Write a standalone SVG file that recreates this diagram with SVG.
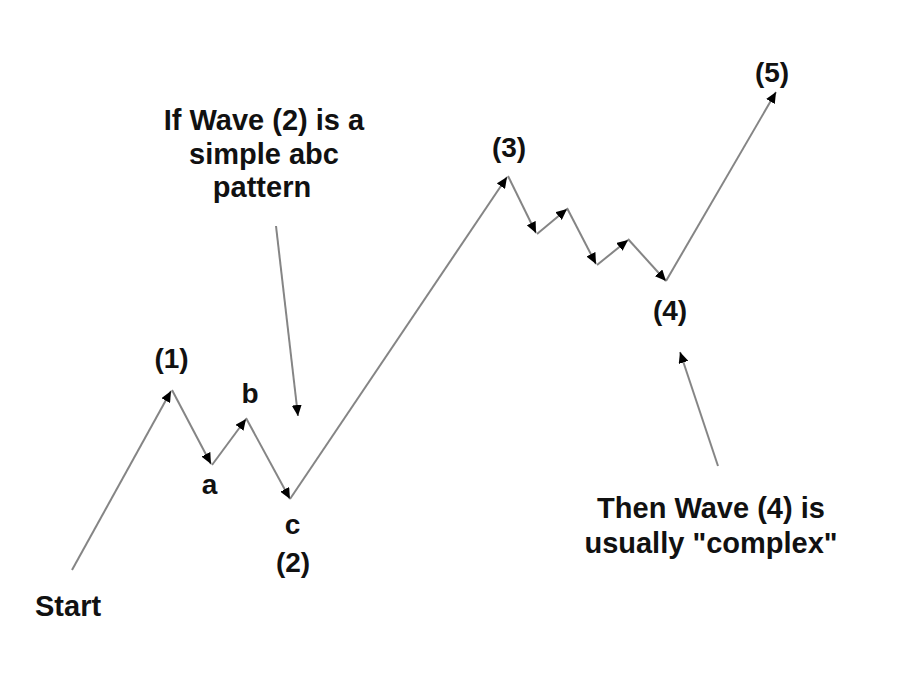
<svg xmlns="http://www.w3.org/2000/svg" width="910" height="696" viewBox="0 0 910 696">
<style>
  .t { font-family: "Liberation Sans", Arial, sans-serif; font-weight: bold; fill: #111; }
  .big { font-size: 29px; text-anchor: middle; }
  .lbl { font-size: 28px; text-anchor: middle; }
  .ln { stroke: #858585; stroke-width: 2; fill: none; marker-end: url(#ah); }
</style>
<defs>
  <marker id="ah" markerUnits="userSpaceOnUse" markerWidth="12" markerHeight="10" refX="11" refY="5" orient="auto">
    <path d="M0,0 L11,5 L0,10 Z" fill="#000"/>
  </marker>
</defs>
<rect width="910" height="696" fill="#fff"/>
<g id="connectors">
  <line class="ln" x1="72" y1="570" x2="171" y2="391"/>
  <line class="ln" x1="172" y1="390" x2="211" y2="464"/>
  <line class="ln" x1="212" y1="465" x2="246" y2="419"/>
  <line class="ln" x1="246" y1="418" x2="290" y2="499"/>
  <line class="ln" x1="290" y1="499" x2="507" y2="177"/>
  <line class="ln" x1="508" y1="176" x2="536" y2="233"/>
  <line class="ln" x1="537" y1="234" x2="567" y2="209"/>
  <line class="ln" x1="567" y1="208" x2="596" y2="264"/>
  <line class="ln" x1="597" y1="265" x2="628" y2="240"/>
  <line class="ln" x1="628" y1="239" x2="666" y2="281"/>
  <line class="ln" x1="666" y1="281" x2="776" y2="92"/>
  <line class="ln" x1="276" y1="226" x2="298" y2="416"/>
  <line class="ln" x1="718" y1="466" x2="680" y2="352"/>
</g>
<g id="note-wave2">
  <text class="t big" x="264" y="130">If Wave (2) is a</text>
  <text class="t big" x="264" y="164">simple abc</text>
  <text class="t big" x="262" y="197">pattern</text>
</g>
<g id="note-wave4">
  <text class="t big" x="711" y="518">Then Wave (4) is</text>
  <text class="t big" x="711" y="553">usually "complex"</text>
</g>
<g id="start"><text class="t" style="font-size:29px" x="35" y="616">Start</text></g>
<g id="w1"><text class="t lbl" x="171.5" y="368">(1)</text></g>
<g id="wa"><text class="t lbl" x="209.5" y="494">a</text></g>
<g id="wb"><text class="t lbl" x="250" y="403">b</text></g>
<g id="wc"><text class="t lbl" x="292.5" y="534">c</text></g>
<g id="w2"><text class="t lbl" x="293" y="572">(2)</text></g>
<g id="w3"><text class="t lbl" x="509" y="157">(3)</text></g>
<g id="w4"><text class="t lbl" x="670" y="320">(4)</text></g>
<g id="w5"><text class="t lbl" x="772" y="82">(5)</text></g>
</svg>
